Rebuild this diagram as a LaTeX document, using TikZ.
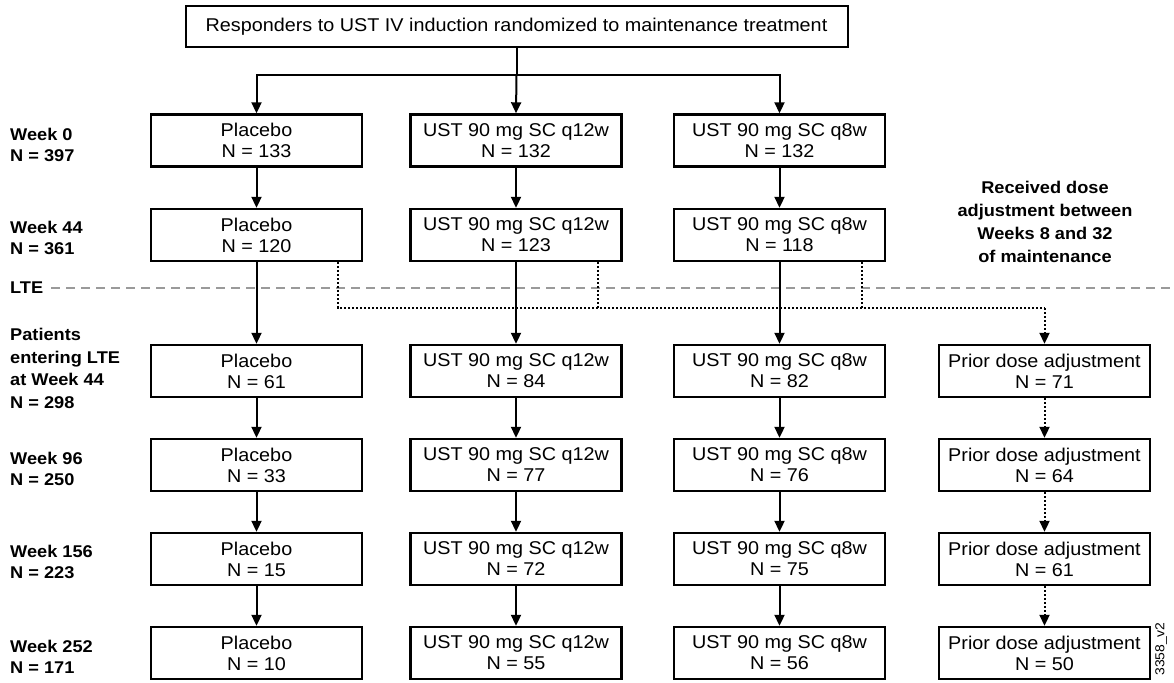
\documentclass[tikz,border=0pt]{standalone}
\usepackage{fontspec}
\setmainfont{Liberation Sans}[FakeStretch=1.07]
\usetikzlibrary{arrows.meta}
\definecolor{ltegray}{HTML}{9A9A9A}
\tikzset{
  box/.style={draw, line width=2.4pt, minimum width=211pt, minimum height=52pt, inner sep=0pt,
    align=center, font=\fontsize{18.5}{21}\selectfont},
  topbox/.style={draw, line width=2pt, minimum width=662pt, minimum height=41pt, inner sep=0pt,
    font=\fontsize{18.5}{21}\selectfont},
  lab/.style={anchor=west, align=left, inner sep=0pt, font=\bfseries\fontsize{17}{21.5}\selectfont},
  arr/.style={line width=2pt, -{Triangle[length=11pt,width=10pt]}},
  conn/.style={line width=2pt},
  dotl/.style={line width=2pt, dash pattern=on 2pt off 2pt},
  dotarr/.style={line width=2pt, dash pattern=on 2pt off 2pt, -{Triangle[length=11pt,width=10pt]}},
}
\begin{document}
\begin{tikzpicture}[x=1pt,y=-1pt]
\useasboundingbox (0,0) rectangle (1174,682);
% top
\node[topbox] (top) at (516.5,26.5) {Responders to UST IV induction randomized to maintenance treatment};
\coordinate (split) at (516.5,75);
% rows
\def\ra{140.5}\def\rb{235}\def\rc{371}\def\rd{465}\def\re{559}\def\rf{653}
\def\ca{256.5}\def\cb{516}\def\cc{779.5}\def\cd{1044.5}
\node[box] (p0) at (\ca,\ra) {Placebo\\N = 133};
\node[box] (a0) at (\cb,\ra) {UST 90 mg SC q12w\\N = 132};
\node[box] (b0) at (\cc,\ra) {UST 90 mg SC q8w\\N = 132};
\node[box] (p1) at (\ca,\rb) {Placebo\\N = 120};
\node[box] (a1) at (\cb,\rb) {UST 90 mg SC q12w\\N = 123};
\node[box] (b1) at (\cc,\rb) {UST 90 mg SC q8w\\N = 118};
\node[box] (p2) at (\ca,\rc) {Placebo\\N = 61};
\node[box] (a2) at (\cb,\rc) {UST 90 mg SC q12w\\N = 84};
\node[box] (b2) at (\cc,\rc) {UST 90 mg SC q8w\\N = 82};
\node[box] (d2) at (\cd,\rc) {Prior dose adjustment\\N = 71};
\node[box] (p3) at (\ca,\rd) {Placebo\\N = 33};
\node[box] (a3) at (\cb,\rd) {UST 90 mg SC q12w\\N = 77};
\node[box] (b3) at (\cc,\rd) {UST 90 mg SC q8w\\N = 76};
\node[box] (d3) at (\cd,\rd) {Prior dose adjustment\\N = 64};
\node[box] (p4) at (\ca,\re) {Placebo\\N = 15};
\node[box] (a4) at (\cb,\re) {UST 90 mg SC q12w\\N = 72};
\node[box] (b4) at (\cc,\re) {UST 90 mg SC q8w\\N = 75};
\node[box] (d4) at (\cd,\re) {Prior dose adjustment\\N = 61};
\node[box] (p5) at (\ca,\rf) {Placebo\\N = 10};
\node[box] (a5) at (\cb,\rf) {UST 90 mg SC q12w\\N = 55};
\node[box] (b5) at (\cc,\rf) {UST 90 mg SC q8w\\N = 56};
\node[box] (d5) at (\cd,\rf) {Prior dose adjustment\\N = 50};
% left labels
\node[lab] (l0) at (10,145) {Week 0\\N = 397};
\node[lab] (l1) at (10,238) {Week 44\\N = 361};
\node[lab] (lte) at (10,288) {LTE};
\node[lab, font=\bfseries\fontsize{17}{22.5}\selectfont] (l2) at (10,368.5) {Patients\\entering LTE\\at Week 44\\N = 298};
\node[lab] (l3) at (10,469) {Week 96\\N = 250};
\node[lab] (l4) at (10,562) {Week 156\\N = 223};
\node[lab] (l5) at (10,657) {Week 252\\N = 171};
\node[align=center, inner sep=0pt, font=\bfseries\fontsize{17}{23}\selectfont] (rda) at (1045,222) {Received dose\\adjustment between\\Weeks 8 and 32\\of maintenance};
\node[rotate=90, inner sep=0pt, font=\fontsize{13}{13}\selectfont] (ver) at (1161,649) {3358\_v2};
% LTE dashed line
\coordinate (lteend) at (1174,288);
\draw[ltegray, line width=1.6pt, dash pattern=on 9pt off 6pt] ([xshift=8pt]lte.east) -- (lteend);
% top connectors
\draw[conn] (top.south) -- (split);
\draw[arr] (split) -| (p0.north);
\draw[arr] (split) -- (a0.north);
\draw[arr] (split) -| (b0.north);
% vertical arrows
\foreach \c in {p,a,b}{
  \draw[arr] (\c0) -- (\c1);
  \draw[arr] (\c1) -- (\c2);
  \draw[arr] (\c2) -- (\c3);
  \draw[arr] (\c3) -- (\c4);
  \draw[arr] (\c4) -- (\c5);
}
% dotted dose-adjustment paths
\coordinate (v1) at (338,308);
\coordinate (v2) at (598,308);
\coordinate (v3) at (862,308);
\coordinate (vend) at (\cd,308);
\draw[dotl] (v1 |- p1.south) -- (v1) -- (vend);
\draw[dotl] (v2 |- a1.south) -- (v2);
\draw[dotl] (v3 |- b1.south) -- (v3);
\draw[dotarr] (vend) -- (d2.north);
\draw[dotarr] (d2) -- (d3);
\draw[dotarr] (d3) -- (d4);
\draw[dotarr] (d4) -- (d5);
\end{tikzpicture}
\end{document}
